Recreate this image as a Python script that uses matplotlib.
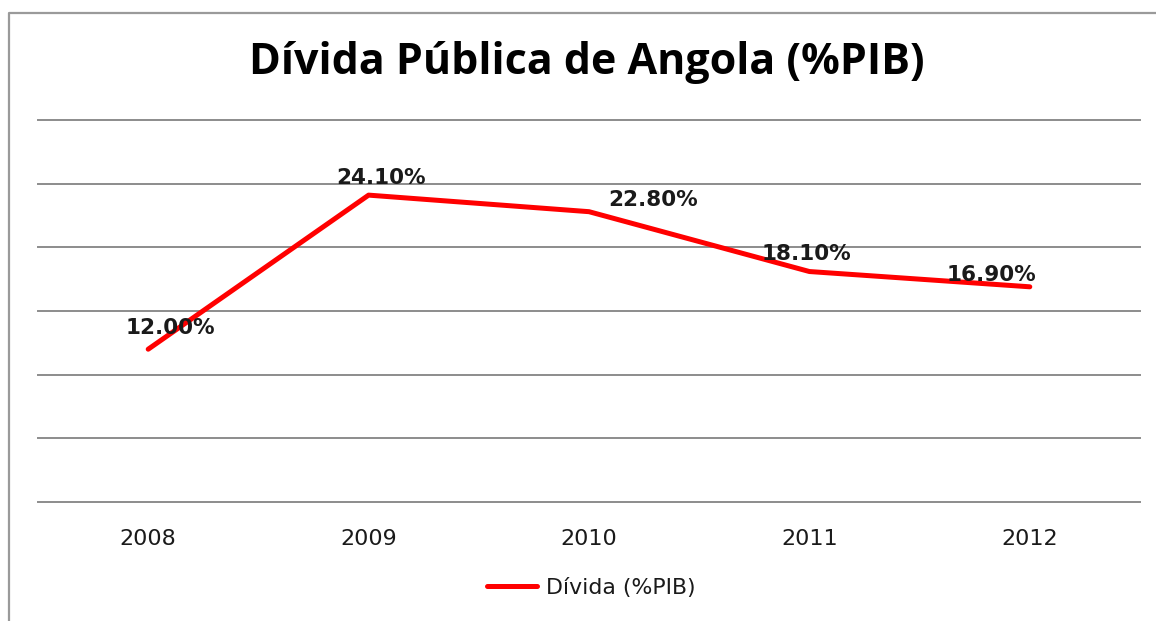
import matplotlib.pyplot as plt
from matplotlib.lines import Line2D

# dados
anos = ['2008', '2009', '2010', '2011', '2012']
divida = [12.0, 24.1, 22.8, 18.1, 16.9]
rotulos = ['12.00%', '24.10%', '22.80%', '18.10%', '16.90%']

# deslocamento dos rótulos (pixels), como no gráfico original
desloc = [(22, 21), (12, 17), (64, 12), (-3, 18), (-38, 12)]

W, H = 1156, 621
fig = plt.figure(figsize=(W / 100, H / 100), dpi=100)
fig.patch.set_facecolor('white')

ax = fig.add_axes([38 / W, 1 - 502 / H, (1140 - 38) / W, (502 - 120) / H])
x = list(range(len(anos)))
ax.plot(x, divida, color='#ff0000', linewidth=3.6, solid_capstyle='round',
        label='Dívida (%PIB)', zorder=3)

for i, txt in enumerate(rotulos):
    ax.annotate(txt, (x[i], divida[i]), xytext=desloc[i], textcoords='offset pixels',
                ha='center', va='center', fontsize=15.5, fontweight='bold',
                color='#1a1a1a', zorder=4)

ax.set_xlim(-0.5, len(anos) - 0.5)
ax.set_ylim(0, 30)
ax.set_yticks(range(0, 31, 5))
ax.yaxis.grid(True, color='#8c8c8c', linewidth=1.4)
for gl in ax.get_ygridlines():
    gl.set_clip_on(False)
ax.set_axisbelow(True)
for s in ax.spines.values():
    s.set_visible(False)
ax.tick_params(axis='y', left=False, labelleft=False)
ax.tick_params(axis='x', bottom=False, labelsize=16, pad=16, labelcolor='#1a1a1a')
ax.set_xticks(x)
ax.set_xticklabels(anos)

fig.text(587 / W, 1 - 62 / H, 'Dívida Pública de Angola (%PIB)', ha='center', va='center',
         fontsize=31, fontweight='bold', family='Open Sans', color='black')

leg = ax.legend(loc='center', bbox_to_anchor=(591 / W, 1 - 588 / H),
                bbox_transform=fig.transFigure, frameon=False, fontsize=15.8,
                handlelength=2.3, handletextpad=0.4)
for t in leg.get_texts():
    t.set_color('#1a1a1a')

# moldura cinza do gráfico
fig.add_artist(Line2D([9 / W, 9 / W, 1.0], [0.0, 1 - 13 / H, 1 - 13 / H],
                      transform=fig.transFigure, color='#9a9a9a', linewidth=1.6))

plt.savefig('out.png', dpi=100)
plt.close()
